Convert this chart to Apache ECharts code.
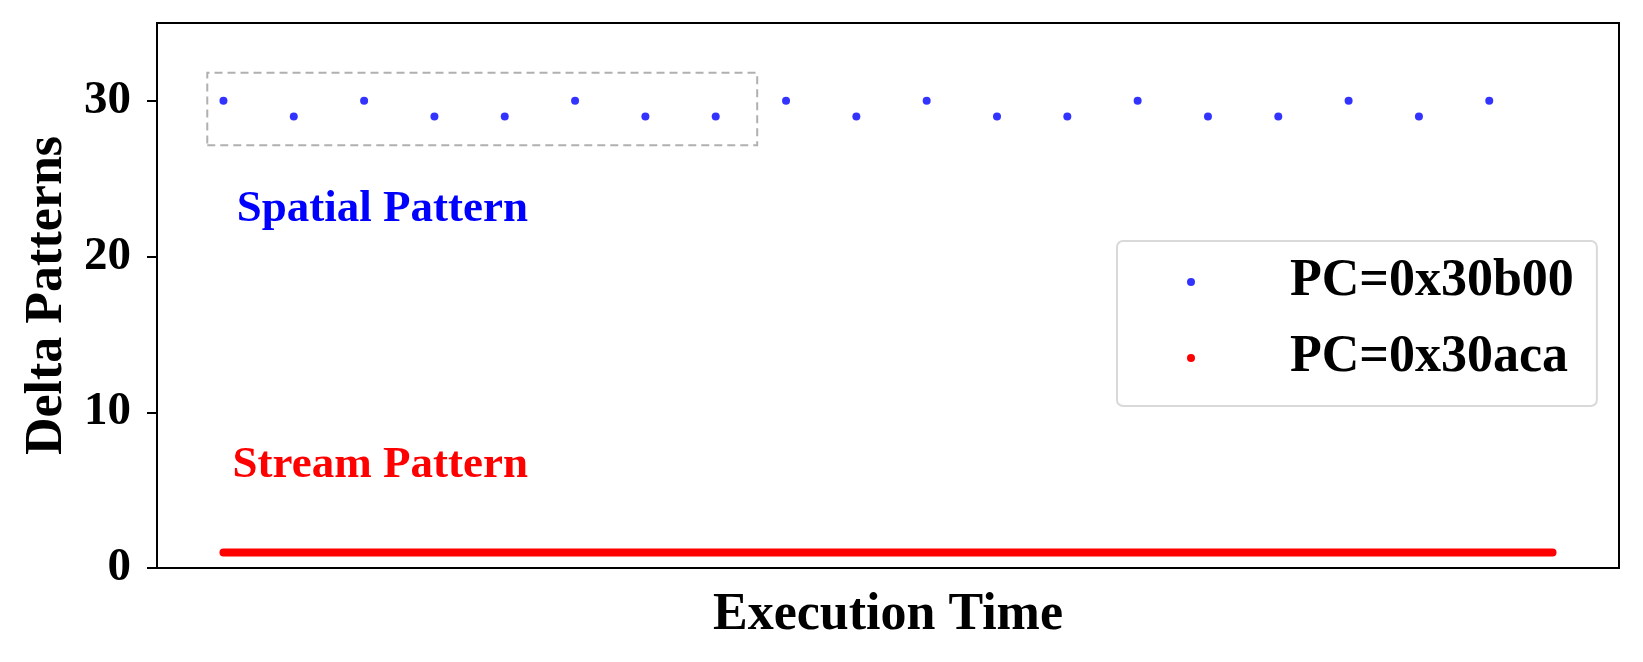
<!DOCTYPE html>
<html>
<head>
  <meta charset="UTF-8">
  <title>delta patterns</title>
  <style>
    html, body { margin: 0; padding: 0; background: #fff; }
    #main { width: 1643px; height: 662px; }
  </style>
  <script src="https://cdn.jsdelivr.net/npm/echarts@6/dist/echarts.min.js"></script>
</head>
<body>
<div id="main"></div>
<script>
  // execution time is in "blue access" slots
  var blueTime = [0, 1, 2, 3, 4, 5, 6, 7, 8, 9, 10, 11, 12, 13, 14, 15, 16, 17, 18];
  var blueDelta = [30, 29, 30, 29, 29, 30, 29, 29, 30, 29, 30, 29, 29, 30, 29, 29, 30, 29, 30];
  var redTime = [0, 1, 2, 3, 4, 5, 6, 7, 8, 9, 10, 11, 12, 13, 14, 15, 16, 17, 18, 18.9];
  var redDelta = [1, 1, 1, 1, 1, 1, 1, 1, 1, 1, 1, 1, 1, 1, 1, 1, 1, 1, 1, 1];
  var seriesNames = ['PC=0x30b00', 'PC=0x30aca'];
  var yTicks = [0, 10, 20, 30];
  // [x, y, text, color] in data coordinates
  var notes = [
    [0.19, 23, 'Spatial Pattern', '#0000ff'],
    [0.13, 6.6, 'Stream Pattern', '#ff0000']
  ];
  var boxFrom = [-0.23, 27.15];
  var boxTo = [7.59, 31.8];

  var font = "'Liberation Serif', 'Times New Roman', serif";
  var chart = echarts.init(document.getElementById('main'));

  function pairs(xs, ys) {
    return xs.map(function (x, i) { return [x, ys[i]]; });
  }

  var option = {
    animation: false,
    grid: {
      left: 157, right: 24, top: 23, bottom: 94,
      show: true, borderColor: '#000', borderWidth: 2
    },
    legend: {
      orient: 'vertical',
      left: 1117, top: 241,
      padding: [15, 23, 22, 70],
      itemGap: 24,
      itemWidth: 8, itemHeight: 8,
      backgroundColor: '#fff',
      borderColor: '#d9d9d9', borderWidth: 2, borderRadius: 6,
      data: [
        { name: seriesNames[0], icon: 'circle' },
        { name: seriesNames[1], icon: 'circle' }
      ],
      textStyle: {
        fontFamily: font, fontWeight: 'bold', fontSize: 52,
        lineHeight: 52, color: '#000', padding: [0, 0, 0, 90]
      }
    },
    xAxis: {
      type: 'value',
      min: -0.945, max: 19.845,
      name: 'Execution Time',
      nameLocation: 'middle',
      nameGap: 22,
      nameTextStyle: { fontFamily: font, fontWeight: 'bold', fontSize: 52, color: '#000' },
      axisLine: { show: true, onZero: false, lineStyle: { color: '#000', width: 2 } },
      axisTick: { show: false },
      axisLabel: { show: false },
      splitLine: { show: false }
    },
    yAxis: {
      type: 'value',
      min: 0, max: 35, interval: 10,
      name: 'Delta Patterns',
      nameLocation: 'middle',
      nameGap: 83,
      nameTextStyle: { fontFamily: font, fontWeight: 'bold', fontSize: 52, color: '#000' },
      axisLine: { show: true, onZero: false, lineStyle: { color: '#000', width: 2 } },
      axisTick: { show: true, length: 10, customValues: yTicks, lineStyle: { color: '#000', width: 2 } },
      axisLabel: {
        margin: 26, customValues: yTicks,
        fontFamily: font, fontWeight: 'bold', fontSize: 47, color: '#000',
        formatter: function (v) { return yTicks.indexOf(v) >= 0 ? String(v) : ''; }
      },
      splitLine: { show: false }
    },
    series: [
      {
        name: seriesNames[0],
        type: 'scatter',
        symbol: 'circle',
        symbolSize: 8,
        itemStyle: { color: '#0000ff' },
        data: pairs(blueTime, blueDelta),
        z: 3,
        markArea: {
          silent: true,
          itemStyle: {
            color: 'rgba(0,0,0,0)',
            borderColor: '#b0b0b0', borderWidth: 2, borderType: [8, 5]
          },
          label: { show: false },
          data: [[{ coord: boxFrom }, { coord: boxTo }]]
        }
      },
      {
        name: seriesNames[1],
        type: 'line',
        showSymbol: false,
        itemStyle: { color: '#ff0000' },
        lineStyle: { color: '#ff0000', width: 8, cap: 'round' },
        data: pairs(redTime, redDelta),
        z: 2
      }
    ]
  };
  chart.setOption(option);

  chart.setOption({
    graphic: notes.map(function (n) {
      var p = chart.convertToPixel({ gridIndex: 0 }, [n[0], n[1]]);
      return {
        type: 'text', x: p[0], y: p[1], z: 10,
        style: {
          text: n[2], fill: n[3],
          font: 'bold 45px ' + font,
          textAlign: 'left', textVerticalAlign: 'middle'
        }
      };
    })
  });
</script>
</body>
</html>
